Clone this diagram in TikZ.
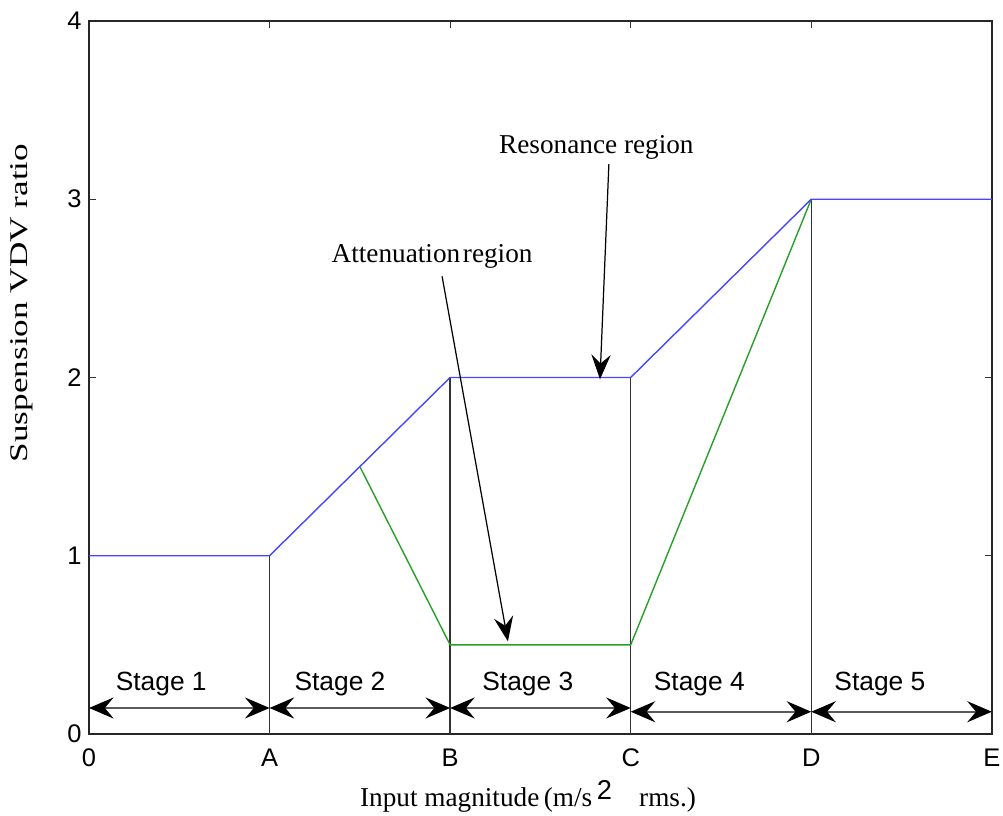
\documentclass[tikz,border=0pt]{standalone}
\usepackage{fontspec}
\setmainfont{Liberation Serif}
\newfontfamily\arialfont{Liberation Sans}
\usetikzlibrary{arrows.meta}
\definecolor{mblue}{RGB}{70,70,255}
\definecolor{mgreen}{RGB}{40,160,40}
\definecolor{shaft}{RGB}{90,90,90}
\tikzset{
  frame/.style={line width=1.1pt, black!85},
  curveb/.style={mblue, line width=0.8pt},
  curveg/.style={mgreen, line width=0.8pt},
  divider/.style={black!80, line width=0.75pt},
  stagearrow/.style={shaft, line width=0.9pt, {Stealth[length=14pt,width=12pt,inset=5pt,black]}-{Stealth[length=14pt,width=12pt,inset=5pt,black]}},
  callout/.style={black, line width=0.7pt, -{Stealth[length=14pt,width=11pt,inset=5pt]}},
  ticklab/.style={font=\arialfont\fontsize{14.5}{16}\selectfont, inner sep=1pt},
  stagelab/.style={font=\arialfont\fontsize{15}{16}\selectfont, inner sep=1pt},
  annot/.style={font=\fontsize{15.5}{17}\selectfont, inner sep=1pt},
  ylab/.style={font=\fontsize{14.5}{16}\selectfont, inner sep=1pt},
  tickmark/.style={black!80, line width=0.6pt}
}
\begin{document}
\begin{tikzpicture}[x=0.02cm, y=-0.02cm]
\useasboundingbox (0,0) rectangle (1003,815);
\begin{scope}[shift={(89,734)}, x=3.612cm, y=3.566cm]
  % frame
  \coordinate (O) at (0,0);
  \coordinate (TR) at (5,4);
  \draw[frame] (O) rectangle (TR);
  % ticks
  \foreach \yy in {1,2,3}{
    \draw[tickmark] (0,\yy) -- ++(0.04,0);
    \draw[tickmark] (5,\yy) -- ++(-0.04,0);
  }
  \foreach \xx in {1,2,3,4}{
    \draw[tickmark] (\xx,4) -- ++(0,-0.04);
  }
  % tick labels
  \foreach \yy in {0,1,2,3,4}{
    \node[ticklab, anchor=east] (yl\yy) at (-0.03,\yy) {\yy};
  }
  \foreach \xx/\lab in {0/0,1/A,2/B,3/C,4/D,5/E}{
    \node[ticklab, anchor=north] (xl\xx) at (\xx,-0.07) {\lab};
  }
  % key points
  \coordinate (P0) at (0,1);
  \coordinate (PA) at (1,1);
  \coordinate (PB) at (2,2);
  \coordinate (PC) at (3,2);
  \coordinate (PD) at (4,3);
  \coordinate (PE) at (5,3);
  \coordinate (G1) at (1.5,1.5);
  \coordinate (GB) at (2,0.5);
  \coordinate (GC) at (3,0.5);
  \coordinate (A0) at (1,0);
  \coordinate (B0) at (2,0);
  \coordinate (C0) at (3,0);
  \coordinate (D0) at (4,0);
  % dividers
  \draw[divider] (A0) -- (PA);
  \draw[divider] (B0) -- (PB);
  \draw[divider] (C0) -- (PC);
  \draw[divider] (D0) -- (PD);
  % curves
  \draw[curveg] (G1) -- (GB) -- (GC) -- (PD);
  \draw[curveb] (P0) -- (PA) -- (PB) -- (PC) -- (PD) -- (PE);
  % stage arrows
  \coordinate (S0) at (0,0.146);
  \coordinate (S1) at (1,0.146);
  \coordinate (S2) at (2,0.146);
  \coordinate (S3) at (3,0.146);
  \coordinate (S3b) at (3,0.125);
  \coordinate (S4) at (4,0.125);
  \coordinate (S5) at (5,0.125);
  \draw[stagearrow] (S0) -- (S1);
  \draw[stagearrow] (S1) -- (S2);
  \draw[stagearrow] (S2) -- (S3);
  \draw[stagearrow] (S3b) -- (S4);
  \draw[stagearrow] (S4) -- (S5);
  \node[stagelab] (st1) at (0.40,0.28) {Stage 1};
  \node[stagelab] (st2) at (1.39,0.28) {Stage 2};
  \node[stagelab] (st3) at (2.43,0.28) {Stage 3};
  \node[stagelab] (st4) at (3.38,0.28) {Stage 4};
  \node[stagelab] (st5) at (4.38,0.28) {Stage 5};
  % annotations
  \node[annot] (res) at (2.81,3.29) {Resonance region};
  \node[annot] (att) at (1.90,2.68) {Attenuation\hspace{0.1em}region};
  \coordinate (restip) at (2.83,1.99);
  \coordinate (atttip) at (2.32,0.52);
  \draw[callout] ([xshift=0.25cm,yshift=-0.05cm]res.south) -- (restip);
  \draw[callout] ([xshift=0.2cm,yshift=-0.12cm]att.south) -- (atttip);
\end{scope}
% axis titles
\node[annot, anchor=base] (xtitle) at (528,806) {Input magnitude\,(m/s\,{\arialfont\raisebox{0.45ex}{2}}\quad rms.)};
\node[ylab, rotate=90] (ytitle) at (22,303) {\scalebox{1.38}[1]{Suspension VDV ratio}};
\end{tikzpicture}
\end{document}
